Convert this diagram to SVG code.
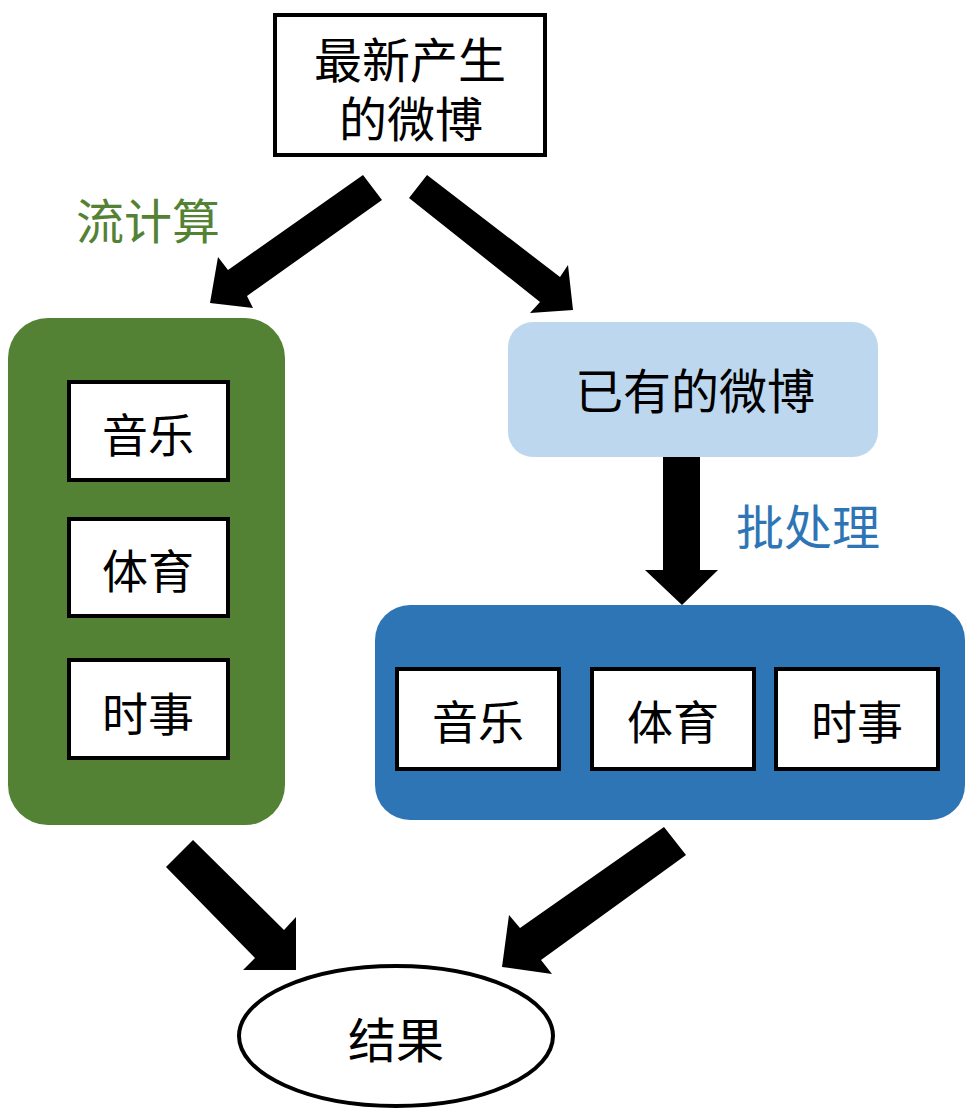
<svg xmlns="http://www.w3.org/2000/svg" width="976" height="1112" viewBox="0 0 976 1112">
<style>
text{font-family:"Liberation Serif","Noto Sans CJK SC",serif;font-size:48px;text-anchor:middle;fill:#000}
.box{fill:#fff;stroke:#000;stroke-width:4}
.cat{font-size:46px}
.arrow{fill:#000}
.lbl-g{fill:#548235}
.lbl-b{fill:#2E75B6}
</style>
<rect width="976" height="1112" fill="#fff"/>
<g id="connectors">
<polygon class="arrow" points="363,175 382,200 247,296 253,308 210,303 218,257 228,270"/>
<polygon class="arrow" points="427,175 409,198 540,302 530,313 573,310 568,265 560,277"/>
<polygon class="arrow" points="663,457 700,457 700,570 718,570 682,605 645,570 663,570"/>
<polygon class="arrow" points="193,840 284,930 296,917 296,970 243,970 255,958 166,867"/>
<polygon class="arrow" points="664,827 686,855 541,960 552,974 502,967 509,915 520,928"/>
<text class="lbl-g" x="148" y="239">流计算</text>
<text class="lbl-b" x="808" y="545">批处理</text>
</g>
<g id="node-new">
<rect class="box" x="275" y="15" width="270" height="140"/>
<text x="410" y="78">最新产生</text>
<text x="411" y="137">的微博</text>
</g>
<g id="node-stream">
<rect x="8" y="318" width="277" height="507" rx="40" fill="#548235"/>
<g id="stream-music"><rect class="box" x="69" y="382" width="159" height="98"/><text class="cat" x="148" y="452">音乐</text></g>
<g id="stream-sports"><rect class="box" x="69" y="519" width="159" height="97"/><text class="cat" x="148" y="588">体育</text></g>
<g id="stream-news"><rect class="box" x="69" y="660" width="159" height="98"/><text class="cat" x="148" y="731">时事</text></g>
</g>
<g id="node-existing">
<rect x="508" y="322" width="370" height="135" rx="25" fill="#BDD7EE"/>
<text x="695" y="409">已有的微博</text>
</g>
<g id="node-batch">
<rect x="375" y="605" width="590" height="215" rx="35" fill="#2E75B6"/>
<g id="batch-music"><rect class="box" x="397" y="669" width="162" height="100"/><text class="cat" x="478" y="739">音乐</text></g>
<g id="batch-sports"><rect class="box" x="592" y="669" width="162" height="100"/><text class="cat" x="673" y="739">体育</text></g>
<g id="batch-news"><rect class="box" x="776" y="669" width="162" height="100"/><text class="cat" x="857" y="739">时事</text></g>
</g>
<g id="node-result">
<ellipse cx="396" cy="1036" rx="157" ry="70" fill="#fff" stroke="#000" stroke-width="4"/>
<text x="396" y="1058">结果</text>
</g>
</svg>
